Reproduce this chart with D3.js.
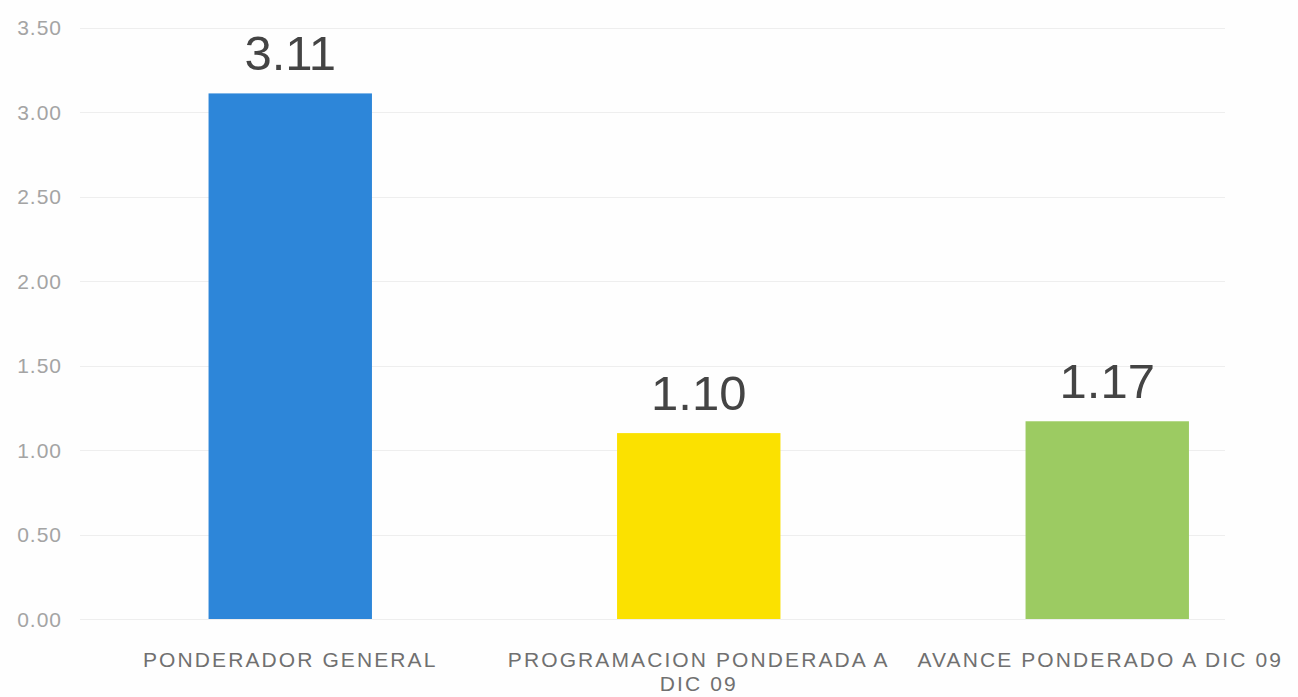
<!DOCTYPE html>
<html>
<head>
<meta charset="utf-8">
<script src="https://cdn.jsdelivr.net/npm/d3@7"></script>
<style>
  html, body { margin: 0; padding: 0; background: #fefefe; }
  svg { display: block; }
</style>
</head>
<body>
<svg id="chart" width="1298" height="697"></svg>
<script>
const categories = [
  ["PONDERADOR GENERAL"],
  ["PROGRAMACION PONDERADA A", "DIC 09"],
  ["AVANCE PONDERADO A DIC 09"]
];
const values = [3.11, 1.10, 1.17];
const valueLabels = ["3.11", "1.10", "1.17"];
const barColors = ["#2d86d9", "#fbe100", "#9ccb62"];
const yTicks = [0, 0.5, 1, 1.5, 2, 2.5, 3, 3.5];

const svg = d3.select("#chart");

const y = d3.scaleLinear().domain([0, 3.5]).range([619, 27.5]);
const x = d3.scaleBand()
  .domain(d3.range(categories.length))
  .range([86, 1311.5])
  .paddingInner(0.6)
  .paddingOuter(0.3);

// gridlines
svg.append("g")
  .selectAll("line")
  .data(yTicks)
  .join("line")
  .attr("x1", 80)
  .attr("x2", 1225)
  .attr("y1", d => Math.round(y(d)) + 0.5)
  .attr("y2", d => Math.round(y(d)) + 0.5)
  .attr("stroke", "#eeeeee")
  .attr("stroke-width", 1);

// y axis labels
const yAxis = d3.axisLeft(y).tickValues(yTicks).tickFormat(d3.format(".2f")).tickSize(0).tickPadding(0);
const gy = svg.append("g").attr("transform", "translate(62,0)").call(yAxis);
gy.select(".domain").remove();
gy.selectAll("text")
  .attr("dy", "0.35em")
  .style("font-family", "'Liberation Sans', Arial, sans-serif")
  .style("font-size", "21px")
  .style("letter-spacing", "1px")
  .attr("fill", "#a4a4a4");

// bars
svg.append("g")
  .selectAll("rect")
  .data(values)
  .join("rect")
  .attr("x", (d, i) => x(i))
  .attr("width", x.bandwidth())
  .attr("y", d => y(d))
  .attr("height", d => y(0) - y(d))
  .attr("fill", (d, i) => barColors[i]);

// value labels
svg.append("g")
  .selectAll("text")
  .data(values)
  .join("text")
  .attr("x", (d, i) => x(i) + x.bandwidth() / 2)
  .attr("y", d => y(d) - 23)
  .attr("text-anchor", "middle")
  .style("font-family", "'Liberation Sans', Arial, sans-serif")
  .style("font-size", "49px")
  .attr("fill", "#444444")
  .text((d, i) => valueLabels[i]);

// category labels
const catG = svg.append("g");
categories.forEach((lines, i) => {
  const cx = x(i) + x.bandwidth() / 2 + (i === 2 ? -7 : 0);
  const t = catG.append("text")
    .attr("x", cx)
    .attr("y", 667)
    .attr("text-anchor", "middle")
    .style("font-family", "'Liberation Sans', Arial, sans-serif")
    .style("font-size", "21px")
    .style("letter-spacing", "2.1px")
    .attr("fill", "#707070");
  lines.forEach((ln, j) => {
    t.append("tspan")
      .attr("x", cx)
      .attr("dy", j === 0 ? 0 : 24)
      .text(ln);
  });
});
</script>
</body>
</html>
